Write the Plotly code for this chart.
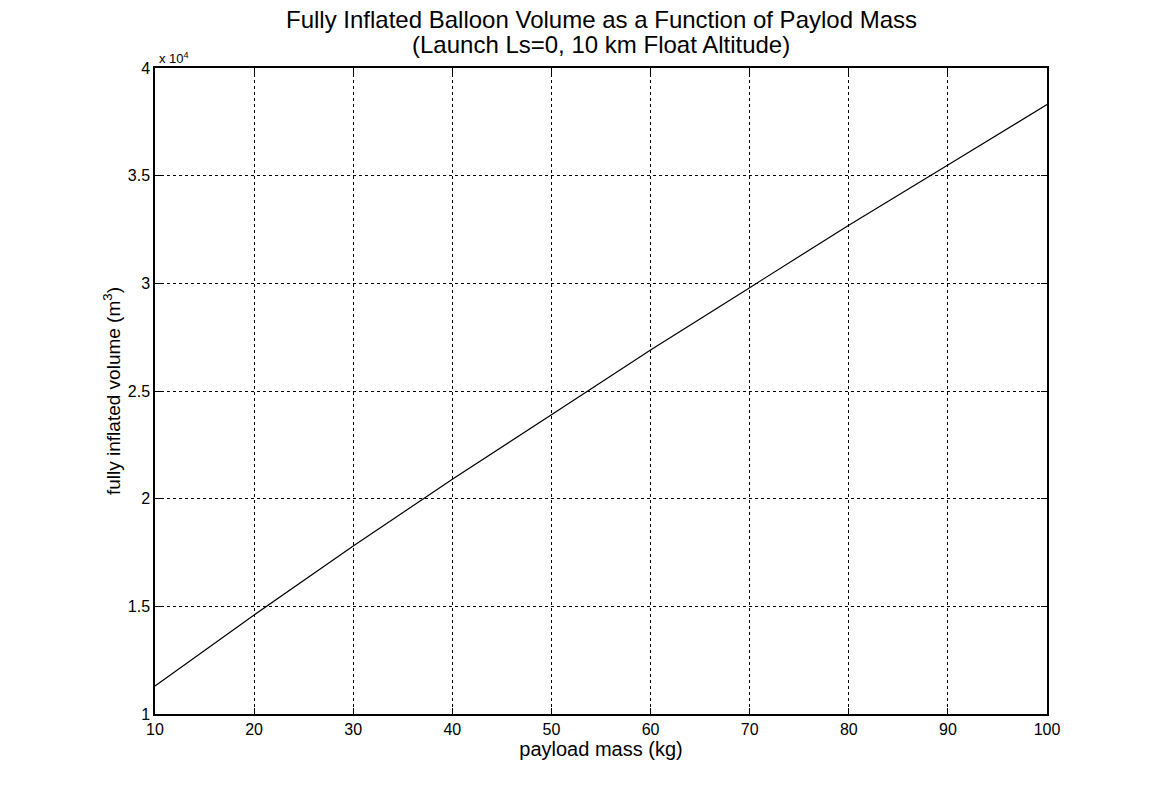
import plotly.graph_objects as go

payload_mass = [10, 20, 30, 40, 50, 60, 70, 80, 90, 100]
volume_1e4 = [1.13, 1.46, 1.78, 2.09, 2.39, 2.69, 2.98, 3.27, 3.55, 3.83]
x_ticks = [10, 20, 30, 40, 50, 60, 70, 80, 90, 100]
y_ticks = [1, 1.5, 2, 2.5, 3, 3.5, 4]
y_tick_text = ["1", "1.5", "2", "2.5", "3", "3.5", "4"]
title_lines = ["Fully Inflated Balloon Volume as a Function of Paylod Mass",
               "(Launch Ls=0, 10 km Float Altitude)"]

font_family = "Liberation Sans, Arial, sans-serif"

fig = go.Figure()
fig.add_trace(go.Scatter(
    x=payload_mass, y=volume_1e4, mode="lines",
    line=dict(color="black", width=1.2), showlegend=False,
))

axis_common = dict(
    showline=True, linecolor="black", linewidth=1.5, mirror="ticks",
    ticks="inside", ticklen=6, tickcolor="black", tickwidth=1,
    showgrid=True, gridcolor="black", gridwidth=1, griddash="dot",
    zeroline=False,
    tickfont=dict(family=font_family, size=16, color="black"),
)

fig.update_layout(
    width=1152, height=801,
    margin=dict(l=155, r=105, t=68, b=87),
    paper_bgcolor="white", plot_bgcolor="white",
    font=dict(family=font_family, color="black"),
    xaxis=dict(
        range=[10, 100], tickvals=x_ticks,
        title=dict(text="payload mass (kg)", font=dict(family=font_family, size=20), standoff=2),
        **axis_common,
    ),
    yaxis=dict(
        range=[1, 4], tickvals=y_ticks, ticktext=y_tick_text,
        title=dict(text="fully inflated volume (m<sup>3</sup>)", font=dict(family=font_family, size=19), standoff=2),
        **axis_common,
    ),
    annotations=[
        dict(text="x 10<sup>4</sup>", xref="paper", yref="paper", x=0.002, y=1.0,
             xanchor="left", yanchor="bottom", showarrow=False,
             font=dict(family=font_family, size=13, color="black")),
        dict(text=title_lines[0], xref="paper", yref="paper", x=0.5, y=1.0, yshift=49,
             xanchor="center", yanchor="middle", showarrow=False,
             font=dict(family=font_family, size=24, color="black")),
        dict(text=title_lines[1], xref="paper", yref="paper", x=0.5, y=1.0, yshift=24,
             xanchor="center", yanchor="middle", showarrow=False,
             font=dict(family=font_family, size=24, color="black")),
    ],
)

fig.write_html("out.html")
